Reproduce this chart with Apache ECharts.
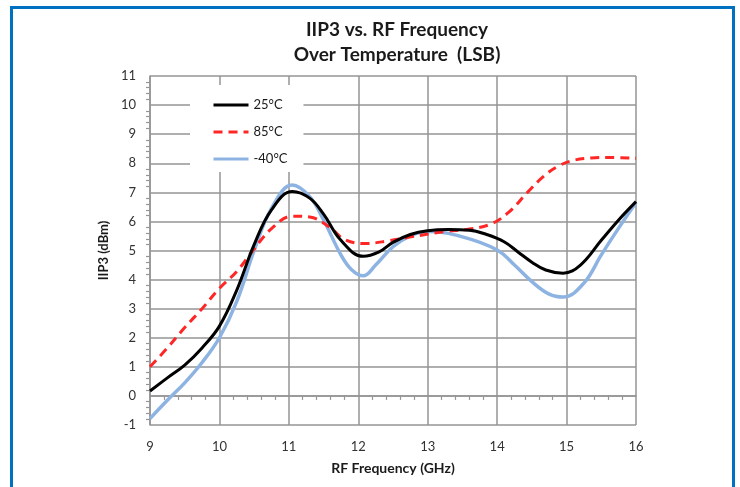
<!DOCTYPE html>
<html>
<head>
<meta charset="utf-8">
<script src="https://cdn.jsdelivr.net/npm/echarts@6/dist/echarts.min.js"></script>
<style>
  html, body { margin: 0; padding: 0; background: #fff; }
  #frame { position: absolute; left: 10px; top: 6px; width: 719px; height: 490px; border-left: 3px solid #0070C0; border-top: 3px solid #0070C0; border-right: 3px solid #0070C0; box-sizing: content-box; }
  #chart { position: absolute; left: 0; top: 0; width: 740px; height: 487px; }
</style>
</head>
<body>
<div id="frame"></div>
<div id="chart"></div>
<script>
const titleLines = ['IIP3 vs. RF Frequency', 'Over Temperature  (LSB)'];
const xAxisName = 'RF Frequency (GHz)';
const yAxisName = 'IIP3 (dBm)';
const seriesNames = ['25°C', '85°C', '-40°C'];

const freq25 = [9.0, 9.25, 9.5, 9.75, 10.0, 10.25, 10.5, 10.75, 11.05, 11.3, 11.5, 11.75, 12.07, 12.3, 12.5, 12.75, 13.0, 13.3, 13.6, 13.85, 14.1, 14.3, 14.5, 14.7, 14.95, 15.2, 15.5, 15.75, 16.0];
const t25    = [0.17, 0.62, 1.06, 1.65, 2.4, 3.64, 5.2, 6.4, 7.03, 6.8, 6.25, 5.35, 4.8, 4.95, 5.28, 5.55, 5.68, 5.72, 5.7, 5.55, 5.3, 4.95, 4.6, 4.33, 4.22, 4.5, 5.35, 6.05, 6.68];

const freq85 = [9.0, 9.25, 9.5, 9.75, 10.0, 10.25, 10.5, 10.75, 11.05, 11.3, 11.59, 11.8, 12.1, 12.43, 12.76, 13.25, 13.6, 13.9, 14.16, 14.43, 14.66, 14.88, 15.1, 15.35, 15.6, 16.0];
const t85    = [1.0, 1.65, 2.35, 3.0, 3.7, 4.28, 5.05, 5.75, 6.18, 6.15, 5.8, 5.38, 5.24, 5.33, 5.47, 5.65, 5.74, 5.9, 6.3, 6.98, 7.53, 7.9, 8.1, 8.18, 8.2, 8.17];

const freqM40 = [9.0, 9.25, 9.5, 9.75, 10.0, 10.25, 10.5, 10.75, 11.05, 11.3, 11.5, 11.75, 11.9, 12.07, 12.25, 12.5, 12.75, 13.0, 13.5, 14.0, 14.25, 14.5, 14.75, 14.95, 15.25, 15.5, 15.75, 16.0];
const tm40    = [-0.78, -0.15, 0.45, 1.15, 2.0, 3.25, 5.0, 6.45, 7.25, 6.85, 6.05, 4.85, 4.35, 4.13, 4.5, 5.13, 5.5, 5.65, 5.47, 5.02, 4.5, 3.93, 3.5, 3.4, 3.88, 4.85, 5.77, 6.65];

const pair = (xs, ys) => xs.map((f, i) => [f, ys[i]]);
const gridColor = '#959595';
const font = 'Lato, "Open Sans", sans-serif';

const chart = echarts.init(document.getElementById('chart'), null, { renderer: 'canvas' });
chart.setOption({
  animation: false,
  backgroundColor: 'transparent',
  title: {
    text: titleLines.join('\n'),
    left: 392, top: 12, textAlign: 'center',
    textStyle: { fontFamily: font, fontWeight: 'bold', fontSize: 19, lineHeight: 25, color: '#1a1a1a' }
  },
  grid: { left: 150, right: 104, top: 76, bottom: 62 },
  legend: {
    orient: 'vertical', left: 190, top: 85,
    backgroundColor: '#fff',
    padding: [13, 16, 6, 22],
    itemWidth: 35, itemHeight: 14, itemGap: 13,
    itemStyle: { opacity: 0 },
    lineStyle: { width: 3 },
    textStyle: { fontFamily: font, fontSize: 13, color: '#1a1a1a', lineHeight: 14 },
    data: seriesNames.map(n => ({ name: n }))
  },
  xAxis: {
    type: 'value', min: 9, max: 16, interval: 1,
    name: xAxisName, nameLocation: 'middle', nameGap: 36,
    nameTextStyle: { fontFamily: font, fontWeight: 'bold', fontSize: 14, color: '#1a1a1a' },
    axisLine: { show: true, lineStyle: { color: gridColor, width: 1.5 } },
    axisTick: { show: false },
    minorTick: { show: true, splitNumber: 5, length: 4, lineStyle: { color: gridColor, width: 1.2 } },
    axisLabel: { margin: 15, fontFamily: font, fontSize: 13, color: '#333' },
    splitLine: { show: true, lineStyle: { color: gridColor, width: 1.5 } }
  },
  yAxis: {
    type: 'value', min: -1, max: 11, interval: 1,
    name: yAxisName, nameLocation: 'middle', nameGap: 24, nameRotate: 90,
    nameTextStyle: { fontFamily: font, fontWeight: 'bold', fontSize: 13, color: '#1a1a1a' },
    axisLine: { show: true, lineStyle: { color: gridColor, width: 1.5 } },
    axisTick: { show: false },
    minorTick: { show: true, splitNumber: 5, length: 4, lineStyle: { color: gridColor, width: 1.2 } },
    axisLabel: { margin: 14, fontFamily: font, fontSize: 13, color: '#333' },
    splitLine: { show: true, lineStyle: { color: gridColor, width: 1.5 } }
  },
  series: [
    { name: seriesNames[1], type: 'line', data: pair(freq85, t85), smooth: 0.4, symbol: 'none', z: 3,
      lineStyle: { color: '#ff2626', width: 3, type: [9, 6] }, itemStyle: { color: '#ff2626' } },
    { name: seriesNames[2], type: 'line', data: pair(freqM40, tm40), smooth: 0.4, symbol: 'none', z: 2,
      lineStyle: { color: '#8db3e2', width: 3.5 }, itemStyle: { color: '#8db3e2' } },
    { name: seriesNames[0], type: 'line', data: pair(freq25, t25), smooth: 0.4, symbol: 'none', z: 4,
      lineStyle: { color: '#000', width: 3 }, itemStyle: { color: '#000' } }
  ]
});
</script>
</body>
</html>
